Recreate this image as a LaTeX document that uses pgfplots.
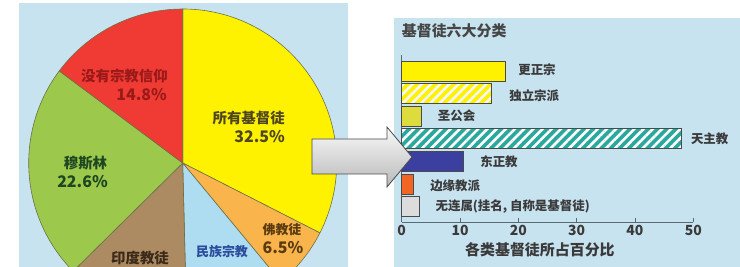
\documentclass[border=0pt]{standalone}
\usepackage{pgfplots}
\pgfplotsset{compat=1.18}
\usetikzlibrary{patterns.meta}
\usepackage{fontspec}
\setmainfont{Noto Sans CJK SC}
\definecolor{bgblue}{HTML}{C8E3F0}
\definecolor{yellowc}{HTML}{FFF200}
\definecolor{orangec}{HTML}{F9B44C}
\definecolor{folkc}{HTML}{AEDDF2}
\definecolor{brownc}{HTML}{AD8B62}
\definecolor{greenc}{HTML}{9CC84C}
\definecolor{redc}{HTML}{EF3B33}
\definecolor{pieedge}{HTML}{6E7048}
\definecolor{anglc}{HTML}{DEDC3C}
\definecolor{cathc}{HTML}{2BA89E}
\definecolor{orthc}{HTML}{3A3FA0}
\definecolor{margc}{HTML}{F26522}
\definecolor{unafc}{HTML}{DCDCDC}
\definecolor{edgec}{HTML}{4A4A4A}
\definecolor{axisc}{HTML}{5A6A70}
\definecolor{labc}{HTML}{3A3A3A}
\definecolor{titlec}{HTML}{454545}
\definecolor{redtxt}{HTML}{9A1A1A}
\definecolor{yeltxt}{HTML}{4E4622}
\definecolor{grntxt}{HTML}{1E4620}
\definecolor{brntxt}{HTML}{3B2A1A}
\definecolor{bluetxt}{HTML}{2A4C9C}
\definecolor{orgtxt}{HTML}{5A3A10}
\newcommand\pief{\bfseries\fontsize{14.5}{15}\selectfont}
\newcommand\piep{\bfseries\fontsize{16}{17}\selectfont}
\begin{document}
\begin{tikzpicture}
\useasboundingbox (0bp,0bp) rectangle (740bp,267bp);
\clip (0bp,0bp) rectangle (740bp,267bp);
\fill[white] (0bp,0bp) rectangle (740bp,267bp);
\fill[bgblue] (19bp,0bp) rectangle (348bp,264bp);
\fill[bgblue] (394bp,0bp) rectangle (740bp,249bp);
% pie shares (percent), clockwise from the top
\pgfmathsetmacro\aA{90}
\pgfmathsetmacro\aB{\aA-32.5*3.6}% all Christians
\pgfmathsetmacro\aC{\aB-6.5*3.6}% Buddhists
\pgfmathsetmacro\aD{\aC-10.6*3.6}% folk religions
\pgfmathsetmacro\aE{\aD-13.0*3.6}% Hindus
\pgfmathsetmacro\aF{\aE-22.6*3.6}% Muslims
\pgfmathsetmacro\aG{\aF-14.8*3.6}% no religion
\begin{axis}[at={(0bp,0bp)}, anchor=south west, scale only axis,
  width=740bp, height=267bp, xmin=0, xmax=740, ymin=0, ymax=267,
  hide axis, clip=false]
\filldraw[fill=yellowc, draw=pieedge, line width=0.6pt] (axis cs:182.7,104) -- ++(\aA:154bp) arc[start angle=\aA, end angle=\aB, radius=154bp] -- cycle;
\filldraw[fill=orangec, draw=pieedge, line width=0.6pt] (axis cs:182.7,104) -- ++(\aB:154bp) arc[start angle=\aB, end angle=\aC, radius=154bp] -- cycle;
\filldraw[fill=folkc, draw=pieedge, line width=0.6pt] (axis cs:182.7,104) -- ++(\aC:154bp) arc[start angle=\aC, end angle=\aD, radius=154bp] -- cycle;
\filldraw[fill=brownc, draw=pieedge, line width=0.6pt] (axis cs:182.7,104) -- ++(\aD:154bp) arc[start angle=\aD, end angle=\aE, radius=154bp] -- cycle;
\filldraw[fill=greenc, draw=pieedge, line width=0.6pt] (axis cs:182.7,104) -- ++(\aE:154bp) arc[start angle=\aE, end angle=\aF, radius=154bp] -- cycle;
\filldraw[fill=redc, draw=pieedge, line width=0.6pt] (axis cs:182.7,104) -- ++(\aF:154bp) arc[start angle=\aF, end angle=\aG, radius=154bp] -- cycle;
\node[anchor=east, inner sep=0pt, text=redtxt, font=\pief] at (axis cs:168,191) {没有宗教信仰};
\node[anchor=east, inner sep=0pt, text=redtxt, font=\piep] at (axis cs:167,172) {14.8\%};
\node[anchor=east, inner sep=0pt, text=yeltxt, font=\pief] at (axis cs:285,149) {所有基督徒};
\node[anchor=east, inner sep=0pt, text=yeltxt, font=\piep] at (axis cs:285,130) {32.5\%};
\node[inner sep=0pt, text=grntxt, font=\pief] at (axis cs:85.5,104) {穆斯林};
\node[inner sep=0pt, text=grntxt, font=\piep] at (axis cs:82.5,85) {22.6\%};
\node[inner sep=0pt, text=brntxt, font=\pief] at (axis cs:140,9) {印度教徒};
\node[inner sep=0pt, text=bluetxt, font=\bfseries\fontsize{13}{14}\selectfont] at (axis cs:222,15) {民族宗教};
\node[inner sep=0pt, text=orgtxt, font=\bfseries\fontsize{13}{14}\selectfont] at (axis cs:282,37) {佛教徒};
\node[inner sep=0pt, text=orgtxt, font=\piep] at (axis cs:283,19) {6.5\%};
\end{axis}
\begin{axis}[at={(401.7bp,45bp)}, anchor=south west, scale only axis,
  width=291.6bp, height=167bp,
  xmin=0, xmax=50, ymin=0.32, ymax=7.71,
  axis x line=bottom, axis y line=left,
  axis line style={draw=axisc, line width=0.9pt, -},
  xtick={0,10,20,30,40,50}, ytick=\empty,
  tick align=inside, major tick length=4bp,
  tick style={draw=axisc, line width=0.9pt},
  /pgf/number format/assume math mode=true,
  xticklabel style={font=\bfseries\fontsize{14}{14}\selectfont, text=labc, inner sep=0pt, anchor=north, yshift=-3bp},
  xbar, bar width=20bp, bar shift=0pt,
  every axis plot/.append style={draw=edgec, line width=0.8pt},
  every node near coord/.append style={anchor=west, inner sep=0pt, font=\bfseries\fontsize{12.5}{13}\selectfont, text=labc},
  xlabel={各类基督徒所占百分比},
  xlabel style={at={(axis description cs:0.474,0)}, anchor=center, yshift=-28bp, font=\bfseries\fontsize{15}{16}\selectfont, text=labc},
  title={基督徒六大分类},
  title style={at={(axis description cs:0,1)}, anchor=west, yshift=18bp, inner sep=0pt, font=\bfseries\fontsize{15}{16}\selectfont, text=titlec},
  clip=false]
\addplot[fill=yellowc, nodes near coords={更正宗}, every node near coord/.append style={xshift=13bp, yshift=1bp}] coordinates {(17.7,7)};
\addplot[fill=yellowc, postaction={pattern={Lines[angle=45,distance=6.5bp,line width=2.6bp]}, pattern color=white!92!gray}, nodes near coords={独立宗派}, every node near coord/.append style={xshift=18bp, yshift=-2bp}] coordinates {(15.3,6)};
\addplot[fill=anglc, nodes near coords={圣公会}, every node near coord/.append style={xshift=16bp}] coordinates {(3.4,5)};
\addplot[fill=cathc, postaction={pattern={Lines[angle=45,distance=6.5bp,line width=2.6bp]}, pattern color=white}, nodes near coords={天主教}, every node near coord/.append style={xshift=9bp}] coordinates {(48.0,4)};
\addplot[fill=orthc, nodes near coords={东正教}, every node near coord/.append style={xshift=17bp}] coordinates {(10.5,3)};
\addplot[fill=margc, nodes near coords={边缘教派}, every node near coord/.append style={xshift=16.5bp, yshift=-1.5bp}] coordinates {(2.0,2)};
\addplot[fill=unafc, nodes near coords={无连属(挂名, 自称是基督徒)}, every node near coord/.append style={xshift=16bp}] coordinates {(3.0,1)};
\end{axis}
\draw[draw=edgec, line width=0.8pt, top color=white!95!gray, bottom color=gray!55]
  (312bp,128bp) -- (387bp,128bp) -- (387bp,140bp) -- (412bp,110bp) -- (387bp,80bp) -- (387bp,93bp) -- (312bp,93bp) -- cycle;
\end{tikzpicture}
\end{document}
